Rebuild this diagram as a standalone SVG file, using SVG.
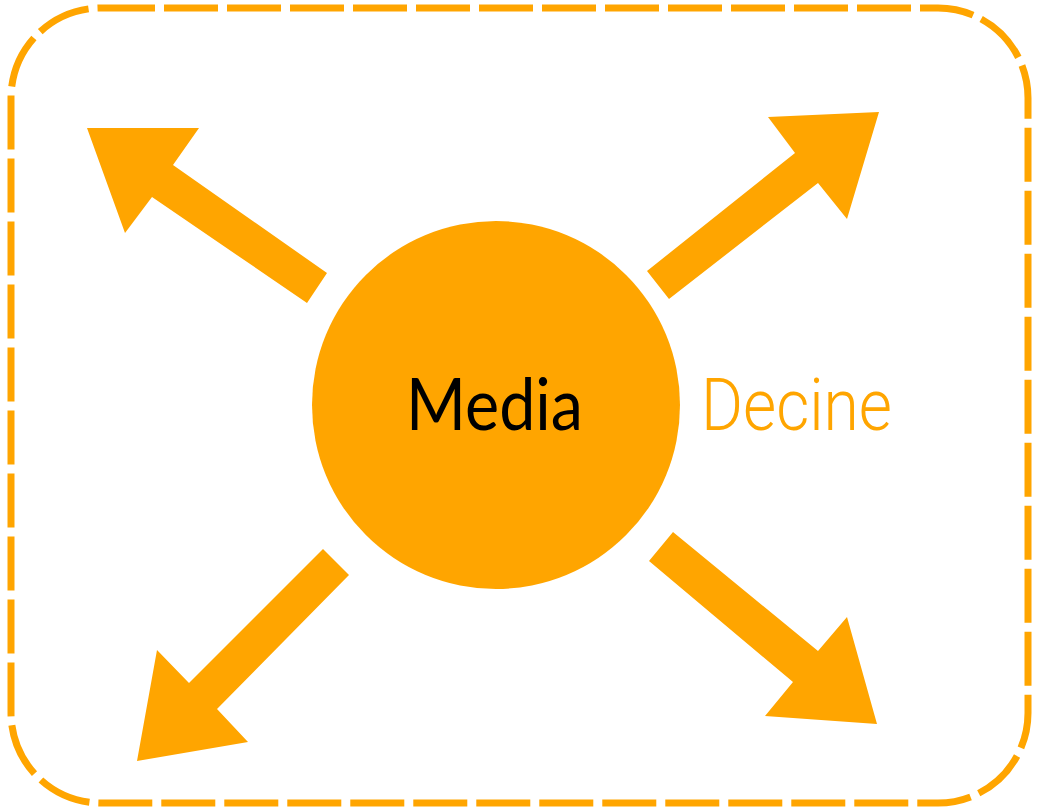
<svg xmlns="http://www.w3.org/2000/svg" width="1039" height="810" viewBox="0 0 1039 810">
<style>
.frame{fill:none;stroke:#FFA500;stroke-width:7;stroke-dasharray:54 9}
.arrow{fill:#FFA500;stroke:none}
.hub{fill:#FFA500}
.lbl{font-size:72px}
</style>
<rect width="1039" height="810" fill="#ffffff"/>
<g id="frame"><rect class="frame" x="11" y="8" width="1017" height="795" rx="90" ry="90"/></g>
<g id="connectors">
<polygon class="arrow" points="87,128 199,128 173,165 327,273 307,303 152,197 125,233"/>
<polygon class="arrow" points="879,112 768,117 795,153 647,271 669,299 818,183 847,219"/>
<polygon class="arrow" points="323,549 349,575 217,709 248,742 137,761 157,650 189,683"/>
<polygon class="arrow" points="649,561 673,532 818,651 847,617 877,724 765,716 793,682"/>
</g>
<g id="media">
<circle class="hub" cx="496" cy="405" r="184"/>
<text class="lbl" x="406" y="430" fill="#000000" font-family="Lato,'Liberation Sans',sans-serif" textLength="177" lengthAdjust="spacingAndGlyphs">Media</text>
</g>
<g id="decine">
<text class="lbl" x="701" y="430" fill="#FFA500" font-family="Roboto,'Liberation Sans',sans-serif" font-weight="300" textLength="191" lengthAdjust="spacingAndGlyphs">Decine</text>
</g>
</svg>
